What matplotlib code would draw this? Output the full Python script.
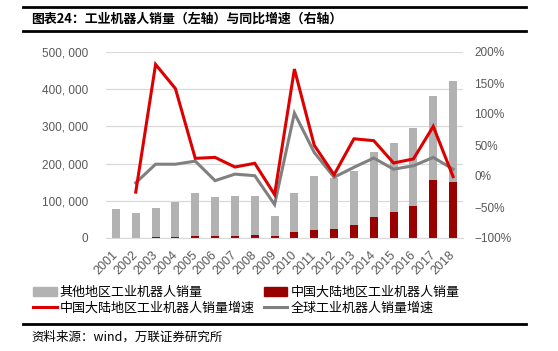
import matplotlib
matplotlib.use("Agg")
import matplotlib.pyplot as plt
import numpy as np
from matplotlib.patches import Patch
from matplotlib.lines import Line2D
from matplotlib.ticker import FuncFormatter
from matplotlib.transforms import ScaledTranslation

plt.rcParams['font.family'] = ['Noto Sans CJK SC', 'DejaVu Sans']

# data
years = ['2001', '2002', '2003', '2004', '2005', '2006', '2007', '2008', '2009',
         '2010', '2011', '2012', '2013', '2014', '2015', '2016', '2017', '2018']
china_sales = [700, 300, 1400, 3500, 4500, 5800, 6600, 7900, 5500,
               15000, 22500, 23000, 36000, 56000, 69000, 87000, 155000, 151000]
other_sales = [77300, 68200, 79600, 94000, 116500, 105700, 107400, 105100, 54500,
               106500, 144500, 138000, 143000, 174000, 187000, 209000, 227000, 271000]
china_growth = [None, -26, 180, 141, 28.5, 30, 14.5, 20.5, -30,
                172.5, 49.5, 2, 60, 57, 21, 27.5, 80, -1]
global_growth = [None, -11, 19, 19, 24, -7.5, 3, 0.5, -46,
                 101.5, 38, -2, 14, 29, 11, 16.5, 30, 11]

title = '图表24：工业机器人销量（左轴）与同比增速（右轴）'
source = '资料来源：wind，万联证券研究所'
labels = ['其他地区工业机器人销量', '中国大陆地区工业机器人销量',
          '中国大陆地区工业机器人销量增速', '全球工业机器人销量增速']

c_gray_bar = '#b2b2b2'
c_red_bar = '#990000'
c_red_line = '#dc0000'
c_gray_line = '#808080'
c_text = '#595959'
tick_font = ['Liberation Sans', 'DejaVu Sans']

fig = plt.figure(figsize=(5.58, 3.51), dpi=100)
ax = fig.add_axes([106/558, 1-238/351, 357/558, 186/351])
ax2 = ax.twinx()

x = np.arange(len(years))
ax.bar(x, china_sales, width=0.4, color=c_red_bar, zorder=2)
ax.bar(x, other_sales, bottom=china_sales, width=0.4, color=c_gray_bar, zorder=2)

cg = np.array([np.nan if v is None else v for v in china_growth], dtype=float)
gg = np.array([np.nan if v is None else v for v in global_growth], dtype=float)
ax2.plot(x, gg, color=c_gray_line, lw=2.2, solid_joinstyle='miter', zorder=3)
ax2.plot(x, cg, color=c_red_line, lw=2.2, solid_joinstyle='miter', zorder=4)

ax.set_xlim(-0.5, len(years) - 0.5)
ax.set_ylim(0, 500000)
ax.set_yticks(np.arange(0, 500001, 100000))
ax.yaxis.set_major_formatter(FuncFormatter(lambda v, p: '{:,}'.format(int(v)).replace(',', ', ')))
ax2.set_ylim(-100, 200)
ax2.set_yticks(np.arange(-100, 201, 50))
ax2.yaxis.set_major_formatter(FuncFormatter(lambda v, p: '{:.0f}%'.format(v).replace('-', '\u2212')))

ax.set_xticks(x)
ax.set_xticklabels(years, rotation=45, ha='right', rotation_mode='anchor')

ax.grid(axis='y', color='#d9d9d9', lw=0.9, zorder=0)
ax.set_axisbelow(True)
for a in (ax, ax2):
    for s in a.spines.values():
        s.set_visible(False)
ax.spines['bottom'].set_visible(True)
ax.spines['bottom'].set_color('#d9d9d9')

ax.tick_params(axis='y', length=0, pad=13, labelsize=8.5, labelcolor=c_text)
ax.tick_params(axis='x', length=0, pad=8, labelsize=9, labelcolor=c_text)
ax2.tick_params(axis='y', length=0, pad=8, labelsize=8.5, labelcolor=c_text)
for lab in ax.get_xticklabels() + ax.get_yticklabels() + ax2.get_yticklabels():
    lab.set_family(tick_font)
# nudge year labels a little left, like the original
shift = ScaledTranslation(-4/100, 0, fig.dpi_scale_trans)
for lab in ax.get_xticklabels():
    lab.set_transform(lab.get_transform() + shift)

# title block with rules
fig.add_artist(Line2D([23/558, 526/558], [1-7/351, 1-7/351], color='black', lw=2))
fig.add_artist(Line2D([23/558, 526/558], [1-31/351, 1-31/351], color='black', lw=2))
fig.text(31/558, 1-19/351, title, fontsize=9.3, fontweight='bold', va='center', ha='left')

handles = [Patch(color=c_gray_bar), Line2D([], [], color=c_red_line, lw=2.2),
           Patch(color=c_red_bar), Line2D([], [], color=c_gray_line, lw=2.2)]
fig.legend(handles, [labels[0], labels[2], labels[1], labels[3]], ncol=2,
           loc='upper left', bbox_to_anchor=(33/558, 1-286/351), frameon=False,
           fontsize=9.4, handlelength=1.8, handleheight=0.6, handletextpad=0.25,
           columnspacing=0.7, labelspacing=0.2, borderaxespad=0, borderpad=0)

fig.add_artist(Line2D([23/558, 526/558], [1-324/351, 1-324/351], color='black', lw=2))
fig.text(31/558, 1-337/351, source, fontsize=9, style='italic', va='center', ha='left')

fig.savefig('out.png', dpi=100)
